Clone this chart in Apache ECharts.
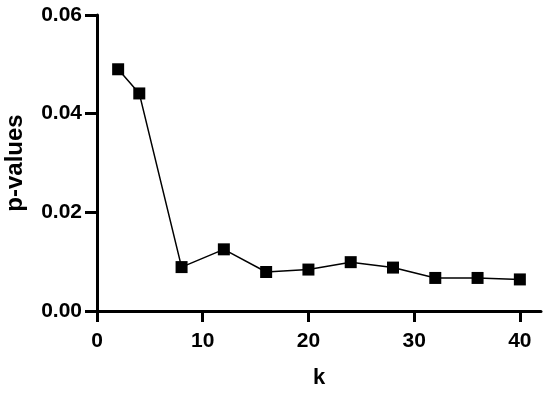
<!DOCTYPE html>
<html>
<head>
<meta charset="utf-8">
<script src="https://cdn.jsdelivr.net/npm/echarts@6/dist/echarts.min.js"></script>
<style>html,body{margin:0;padding:0;background:#fff}#c{width:550px;height:393px}</style>
</head>
<body>
<div id="c"></div>
<script>
var kValues = [2, 4, 8, 12, 16, 20, 24, 28, 32, 36, 40];
var pValues = [0.0490, 0.0441, 0.0089, 0.0125, 0.0079, 0.0084, 0.0099, 0.0088, 0.0067, 0.0067, 0.0064];
var xTicks = [0, 10, 20, 30, 40];
var yTicks = [0, 0.02, 0.04, 0.06];

var chart = echarts.init(document.getElementById('c'));
var font = 'Liberation Sans, Arial, sans-serif';
chart.setOption({
  animation: false,
  backgroundColor: '#fff',
  grid: {left: 97, right: 9, top: 15, bottom: 82, outerBoundsMode: 'none', containLabel: false},
  xAxis: {
    type: 'value', min: 0, max: 42, interval: 10,
    name: 'k', nameLocation: 'middle', nameGap: 56,
    nameTextStyle: {fontFamily: font, fontWeight: 'bold', fontSize: 22, color: '#000'},
    axisLine: {show: true, onZero: false, lineStyle: {color: '#000', width: 3}},
    axisTick: {show: true, length: 11, lineStyle: {color: '#000', width: 3}},
    axisLabel: {showMaxLabel: false, margin: 20, fontFamily: font, fontWeight: 'bold', fontSize: 21, color: '#000',
      formatter: function (v) { return xTicks.indexOf(v) >= 0 ? String(v) : ''; }},
    splitLine: {show: false}
  },
  yAxis: {
    type: 'value', min: 0, max: 0.06, interval: 0.02,
    name: 'p-values', nameLocation: 'middle', nameGap: 70, nameRotate: 90,
    nameTextStyle: {fontFamily: font, fontWeight: 'bold', fontSize: 24, color: '#000'},
    axisLine: {show: true, lineStyle: {color: '#000', width: 3}},
    axisTick: {show: true, length: 12, lineStyle: {color: '#000', width: 3}},
    axisLabel: {margin: 15, fontFamily: font, fontWeight: 'bold', fontSize: 21, color: '#000',
      formatter: function (v) { return v.toFixed(2); }},
    splitLine: {show: false}
  },
  series: [{
    type: 'line',
    data: kValues.map(function (k, i) { return [k, pValues[i]]; }),
    symbol: 'rect', symbolSize: 12,
    itemStyle: {color: '#000'},
    lineStyle: {color: '#000', width: 1.5}
  }]
});
</script>
</body>
</html>
